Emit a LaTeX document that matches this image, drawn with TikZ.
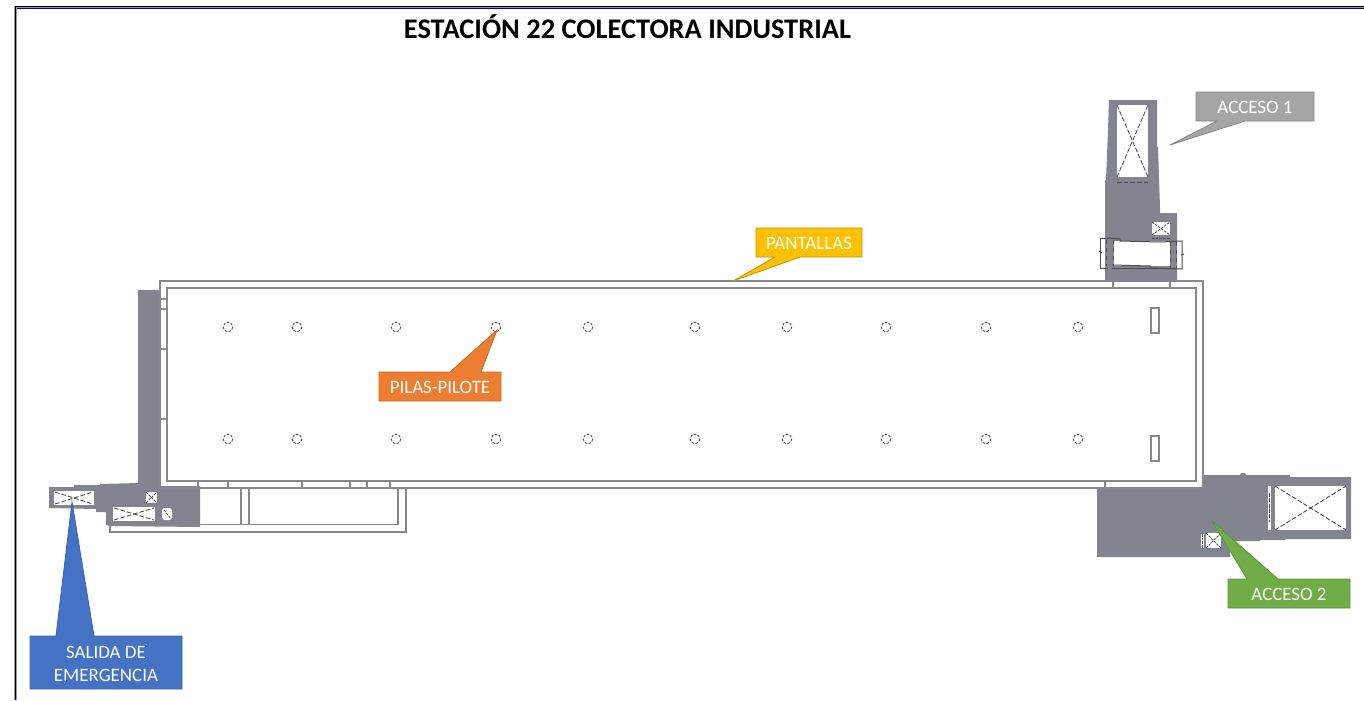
\documentclass[tikz,border=0pt]{standalone}
\usepackage{fontspec}
\setmainfont{Carlito}
\usetikzlibrary{calc}
\pgfdeclarelayer{front}
\pgfsetlayers{main,front}
\definecolor{plangray}{HTML}{82858F}
\definecolor{wallgray}{HTML}{85888E}
\definecolor{dashdark}{HTML}{4A4C52}
\definecolor{calgreen}{RGB}{112,173,71}
\definecolor{calgreenb}{RGB}{90,150,55}
\definecolor{calyellow}{RGB}{255,192,0}
\definecolor{calyellowb}{RGB}{195,148,15}
\definecolor{calorange}{RGB}{237,125,49}
\definecolor{calorangeb}{RGB}{200,105,45}
\definecolor{calblue}{RGB}{68,114,196}
\definecolor{calblueb}{RGB}{60,100,170}
\definecolor{calgray}{RGB}{165,165,165}
\definecolor{calgrayb}{RGB}{135,135,135}
\tikzset{
  x=0.75pt,y=-0.75pt,
  mass/.style={fill=plangray,draw=none},
  wall/.style={draw=wallgray,line width=0.9pt,fill=none},
  opening/.style={fill=white,draw=none},
  cross/.style={draw=dashdark,line width=0.65pt,dash pattern=on 3.5pt off 1.5pt},
  finecross/.style={draw=dashdark,line width=0.55pt,dash pattern=on 2pt off 0.8pt},
  pile/.style={draw=dashdark,line width=0.65pt,dash pattern=on 2pt off 1.1pt,fill=white},
  detail/.style={draw=dashdark,line width=0.75pt},
  calltext/.style={text=white,font=\fontsize{14.2}{17.25}\selectfont,inner sep=0pt,outer sep=0pt,align=center},
  callshape/.style={line width=0.6pt,line join=miter},
  title/.style={font=\fontsize{21.3}{25}\selectfont\bfseries,text=black,inner sep=0pt}
}
\newcommand{\xbox}[5][cross]{%
  \fill[opening] (#2,#3) rectangle (#4,#5);
  \draw[#1] (#2,#3) -- (#4,#5);
  \draw[#1] (#2,#5) -- (#4,#3);
}
\begin{document}
\begin{tikzpicture}
\useasboundingbox (0,0) rectangle (1364,700);
\fill[white] (0,0) rectangle (1364,700);

% sheet frame
\fill[gray!80] (14,5.8) rectangle (1364,7.8);
\fill[gray!80] (14,5.8) rectangle (17.4,700);
\draw[black,line width=0.8pt] (1364,6.8) -- (15.6,6.8) -- (15.6,700);
\draw[blue!70!black,line width=0.6pt] (17.4,8.3) -- (1364,8.3);

% title
\node[title] (ttl) at (627.5,26.5) {ESTACIÓN 22 COLECTORA INDUSTRIAL};

% gray masses: emergency exit
\fill[mass] (138,290) -- (160,290) -- (160,486) -- (200,486) -- (200,527) -- (110,526)
  -- (106,525) -- (106,512) -- (96,512) -- (96,509) -- (49,508) -- (49,487) -- (74,487) -- (74,485)
  -- (100,485) -- (100,484) -- (138,483) -- cycle;
\fill[opening] (54,491) rectangle (94,505);
\fill[opening] (113,507) rectangle (155,521);
\draw[cross] (55,492) -- (93,504);
\draw[cross] (55,504) -- (93,492);
\draw[cross] (114,508) -- (154,520);
\draw[cross] (114,520) -- (154,508);
\xbox[finecross]{146}{492}{157}{503}
\fill[opening,rounded corners=2] (162,508) rectangle (172,520);
\draw[finecross] (164,510) -- (171,519);

% gray masses: access 1
\fill[mass] (1109,100) -- (1157,100) -- (1157,147) -- (1158,147) -- (1160,208) -- (1160,213) -- (1177,213)
  -- (1177,281) -- (1105,281) -- (1105,180) -- (1106,180) -- (1108,130) -- cycle;
\xbox{1117}{105}{1148}{177}
\draw[cross] (1117,182) -- (1148,182);
\xbox[finecross]{1152}{222}{1170}{235}
\draw[finecross] (1152,238) -- (1170,238);
\fill[opening] (1114,241) rectangle (1170,266);
\draw[detail] (1108,238) -- (1100,238) -- (1100,268) -- (1108,268);
\draw[detail] (1108,238) -- (1120,239) -- (1120,241) -- (1160,242) -- (1182,241) -- (1182,269) -- (1150,268) -- (1150,266) -- (1112,265);
\draw[detail] (1112,268) -- (1176,268);
\draw[detail,dashed] (1106,240) -- (1106,266);
\draw[detail,dashed] (1113,240) -- (1113,266);
\draw[detail,dashed] (1170,242) -- (1170,268);
\draw[detail,dashed] (1176.5,242) -- (1176.5,268);
\draw[detail] (1099,251) -- (1102,253);
\draw[detail] (1181,255) -- (1184,254);

% gray masses: access 2
\fill[mass] (1097,488) -- (1203,488) -- (1203,475) -- (1240,475) -- (1241,473) -- (1245,473) -- (1246,475) -- (1290,475) -- (1290,477) -- (1351,477)
  -- (1351,539) -- (1285,539) -- (1285,540) -- (1260,540) -- (1260,541) -- (1230,541) -- (1230,557) -- (1097,557) -- cycle;
\xbox{1275}{486}{1346}{530}
\fill[opening] (1268,486) rectangle (1271,530);
\draw[detail,line width=1pt,dash pattern=on 3pt off 1pt] (1269.5,493) -- (1269.5,522);
\xbox[finecross]{1206}{533}{1221}{548}
\fill[opening] (1201,534) rectangle (1204,548);
\draw[finecross] (1202.5,534) -- (1202.5,548);

% station walls
\draw[wall] (160,281) rectangle (1203,488);
\draw[wall] (167,288) rectangle (1196,481);
\foreach \ty in {299,309,349,419} \draw[wall] (160,\ty) -- (167,\ty);
\foreach \tx in {198,228,302,350,367,390,1105} \draw[wall] (\tx,481) -- (\tx,488);
\foreach \tx in {1113,1170} \draw[wall] (\tx,281) -- (\tx,288);
\draw[wall] (110,525) -- (110,532) -- (406,532) -- (406,488);
\draw[wall] (110,524.5) -- (398,524.5) -- (398,488);
\draw[wall] (241,488) -- (241,524.5);
\draw[wall] (249,488) -- (249,524.5);
\draw[wall,line width=0.8pt] (1151,308) rectangle (1159,333);
\draw[wall,line width=0.8pt] (1151,436) rectangle (1159,461);

% piles
\foreach \px in {228,297,396,496,588,695,787,886,986,1078}{
  \draw[pile] (\px,327) circle[radius=4.8];
  \draw[pile] (\px,439) circle[radius=4.8];
}

% callouts
\begin{pgfonlayer}{front}
\node[calltext,minimum width=88.5pt,minimum height=21.75pt] (acc1) at (1255,107.5) {ACCESO 1};
\node[calltext,minimum width=91.5pt,minimum height=21.75pt] (acc2) at (1289,594.5) {ACCESO 2};
\node[calltext,minimum width=79.5pt,minimum height=21.75pt] (pant) at (809,243.5) {PANTALLAS};
\node[calltext,minimum width=91.5pt,minimum height=21.75pt] (pila) at (440,387.5) {PILAS-PILOTE};
\node[calltext,minimum width=114pt,minimum height=39.75pt] (sali) at (106,663.5) {SALIDA DE\\EMERGENCIA};
\end{pgfonlayer}

\coordinate (acc1tip) at (1170,145);
\coordinate (acc2tip) at (1212,521);
\coordinate (panttip) at (733,281);
\coordinate (pilatip) at (497,330);
\coordinate (salitip) at (72,502);

\draw[callshape,fill=calgray,draw=calgrayb] (1196,92) -- (1314,92) -- (1314,121)
  -- (1245,121) -- (acc1tip) -- (1217,121) -- (1196,121) -- cycle;
\draw[callshape,fill=calgreen,draw=calgreenb]
  (1228,608) -- (1350,608) -- (1350,579) -- (1278,579) -- (acc2tip) -- (1247,579) -- (1228,579) -- cycle;
\draw[callshape,fill=calyellow,draw=calyellowb]
  (756,228) -- (862,228) -- (862,257) -- (800,257) -- (panttip) -- (775,257) -- (756,257) -- cycle;
\draw[callshape,fill=calorange,draw=calorangeb]
  (379,401) -- (501,401) -- (501,372) -- (481,372) -- (pilatip) -- (450,372) -- (379,372) -- cycle;
\draw[callshape,fill=calblue,draw=calblueb]
  (30,689) -- (182,689) -- (182,636) -- (94,636) -- (salitip) -- (56,636) -- (30,636) -- cycle;
\end{tikzpicture}
\end{document}
